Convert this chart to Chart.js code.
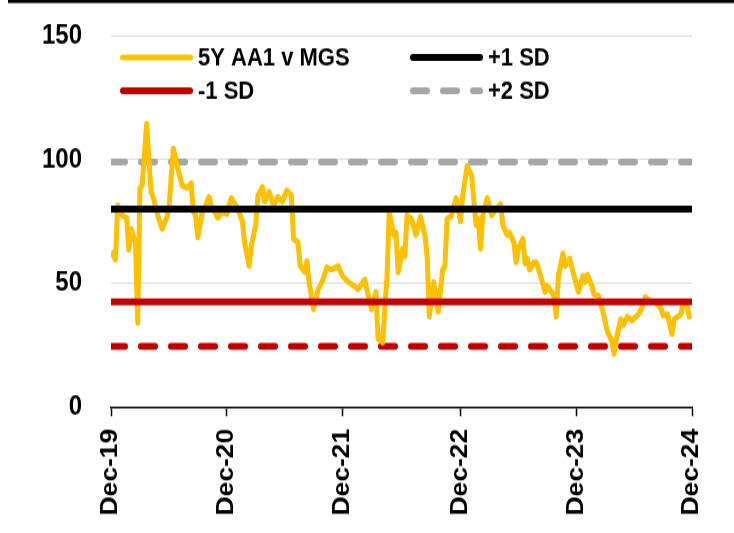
<!DOCTYPE html>
<html>
<head>
<meta charset="utf-8">
<script src="https://cdn.jsdelivr.net/npm/chart.js@4.4.1/dist/chart.umd.min.js"></script>
<style>
  html, body { margin: 0; padding: 0; background: #fff; overflow: hidden; }
  #wrap { width: 734px; height: 533px; }
  /* chart is drawn a little short and stretched to full height */
  #spreadChart { transform: scaleY(1.1487); transform-origin: 0 0; }
</style>
</head>
<body>
<div id="wrap"><canvas id="spreadChart" width="734" height="464"></canvas></div>
<script>
// x axis: weeks since Dec-19
const tickLabels = ['Dec-19', 'Dec-20', 'Dec-21', 'Dec-22', 'Dec-23', 'Dec-24'];
const tickWeeks = [0, 52, 104, 157, 209, 261];

// 5Y AA1 v MGS spread (bp)
const weeks = [
  0, 2, 3, 5, 7, 8, 9, 11, 12, 13, 14, 16, 18, 19, 21, 23, 25, 26, 28, 30,
  32, 34, 36, 37, 38, 39, 41, 42, 44, 45, 48, 50, 52, 54, 57, 59, 60, 62, 63, 65,
  66, 68, 69, 71, 73, 75, 77, 79, 81, 82, 84, 85, 87, 88, 89, 91, 93, 95, 97, 99,
  102, 104, 106, 109, 111, 114, 115, 117, 119, 120, 122, 124, 125, 127, 128, 129, 131, 132, 133, 135,
  137, 139, 141, 142, 143, 145, 147, 149, 150, 151, 153, 155, 157, 158, 160, 162, 164, 165, 166, 167,
  169, 171, 173, 175, 176, 178, 179, 181, 182, 183, 185, 186, 187, 188, 190, 191, 193, 195, 196, 199,
  200, 201, 203, 204, 206, 208, 210, 212, 213, 214, 216, 217, 219, 221, 222, 223, 225, 226, 227, 229,
  230, 232, 234, 237, 239, 240, 242, 244, 247, 248, 250, 252, 253, 256, 257, 259, 260
];
const spread = [
  63, 59.5, 81.5, 77.5, 76.5, 63.5, 72, 66.5, 34, 88.5, 89.5, 114.5, 87, 84.5, 77.5, 72, 76.5, 80, 104.5, 96.5,
  89.5, 88.5, 90.5, 79, 77.5, 68.5, 79, 80, 85, 81.5, 76.5, 79, 78, 84.5, 80, 75, 66.5, 57, 65, 73.5,
  85.5, 89, 83, 87, 81.5, 85, 83, 87.5, 85.5, 68, 66.5, 57, 54.5, 59, 50.5, 39.5, 47.5, 51, 56.5, 55.5,
  57, 53, 51, 49, 47.5, 51.5, 47.5, 39.5, 46.5, 27.5, 26, 53, 79, 69.5, 70.5, 54.5, 64, 61, 77.5, 76,
  69.5, 77, 69.5, 61, 36.5, 50.5, 38.5, 55.5, 57, 76, 77.5, 84.5, 75, 85.5, 97.5, 93.5, 73.5, 76, 64, 77.5,
  84.5, 77.5, 80, 82, 73.5, 69.5, 70.5, 66.5, 58.5, 64, 68, 58, 60, 55.5, 58.5, 58.5, 53, 46.5, 49, 45,
  36.5, 53, 62, 57, 60, 53, 46.5, 53, 50.5, 53.5, 49, 45.5, 45, 38.5, 34.5, 30.5, 26.5, 21.5, 27.5, 35.5,
  33, 36.5, 35, 37.5, 41, 44.5, 43, 42.5, 40, 37, 37.5, 29.5, 35.5, 37.5, 42, 40, 35.5
];

// standard deviation bands
const plusOneSd = 80;
const minusOneSd = 42.5;
const plusTwoSd = 99;
const minusTwoSd = 24.5;

const yTicks = [0, 50, 100, 150];

const FONT = '"Liberation Sans", Arial, sans-serif';

function flatLine(level) {
  return [{ x: tickWeeks[0], y: level }, { x: tickWeeks[tickWeeks.length - 1], y: level }];
}

// white background and the rule across the top
const frame = {
  id: 'frame',
  beforeDraw(chart) {
    const ctx = chart.ctx;
    ctx.save();
    ctx.fillStyle = '#fff';
    ctx.fillRect(0, 0, chart.width, chart.height);
    ctx.fillStyle = '#000';
    ctx.fillRect(8, 0, chart.width - 8, 2.6);
    ctx.restore();
  }
};

// two-column legend inside the plot
const sdLegend = {
  id: 'sdLegend',
  afterDraw(chart) {
    const ctx = chart.ctx;
    const slots = [
      { label: '5Y AA1 v MGS', x: 120, y: 50 },
      { label: '+1 SD', x: 410, y: 50 },
      { label: '-1 SD', x: 120, y: 79 },
      { label: '+2 SD', x: 410, y: 79 }
    ];
    ctx.save();
    ctx.font = 'bold 22px ' + FONT;
    ctx.textBaseline = 'middle';
    slots.forEach((s) => {
      const ds = chart.data.datasets.find((d) => d.label === s.label);
      const w = ds.borderWidth;
      ctx.beginPath();
      ctx.lineCap = 'round';
      ctx.lineWidth = w;
      ctx.strokeStyle = ds.borderColor;
      ctx.setLineDash(ds.borderDash || []);
      ctx.moveTo(s.x + w / 2, s.y);
      ctx.lineTo(s.x + 73 - w / 2, s.y);
      ctx.stroke();
      ctx.setLineDash([]);
      ctx.fillStyle = '#000';
      ctx.fillText(s.label, s.x + 78, s.y + 1);
    });
    ctx.restore();
  }
};

new Chart(document.getElementById('spreadChart'), {
  type: 'line',
  data: {
    datasets: [
      {
        label: '+1 SD',
        data: flatLine(plusOneSd),
        borderColor: '#000000',
        borderWidth: 6,
        borderCapStyle: 'round',
        pointRadius: 0
      },
      {
        label: '-1 SD',
        data: flatLine(minusOneSd),
        borderColor: '#C00000',
        borderWidth: 6,
        borderCapStyle: 'round',
        pointRadius: 0
      },
      {
        label: '5Y AA1 v MGS',
        data: weeks.map((w, i) => ({ x: w, y: spread[i] })),
        borderColor: '#FFC000',
        borderWidth: 5,
        borderJoinStyle: 'round',
        pointRadius: 0,
        tension: 0
      },
      {
        label: '+2 SD',
        data: flatLine(plusTwoSd),
        borderColor: '#A6A6A6',
        borderWidth: 6,
        borderDash: [14, 16],
        borderCapStyle: 'round',
        pointRadius: 0
      },
      {
        label: '-2 SD',
        data: flatLine(minusTwoSd),
        borderColor: '#C00000',
        borderWidth: 6,
        borderDash: [14, 16],
        borderCapStyle: 'round',
        pointRadius: 0
      }
    ]
  },
  options: {
    responsive: false,
    animation: false,
    devicePixelRatio: 1,
    layout: { padding: { top: 31.3, right: 42, left: 0, bottom: 0 } },
    plugins: {
      legend: { display: false },
      tooltip: { enabled: false }
    },
    scales: {
      x: {
        type: 'linear',
        min: tickWeeks[0],
        max: tickWeeks[tickWeeks.length - 1],
        afterBuildTicks: (scale) => {
          scale.ticks = tickWeeks.map((v) => ({ value: v }));
        },
        afterFit: (scale) => { scale.height = 109.7; },
        ticks: {
          autoSkip: false,
          minRotation: 90,
          maxRotation: 90,
          padding: 11,
          color: '#000',
          font: { family: FONT, size: 23, weight: 'bold' },
          callback: (v, i) => tickLabels[i]
        },
        grid: {
          drawOnChartArea: false,
          drawTicks: true,
          tickLength: 8,
          tickColor: '#000',
          tickWidth: 1.5
        },
        border: { display: true, color: '#000', width: 1.5 }
      },
      y: {
        min: yTicks[0],
        max: yTicks[yTicks.length - 1],
        afterBuildTicks: (scale) => {
          scale.ticks = yTicks.map((v) => ({ value: v }));
        },
        afterFit: (scale) => {
          // fixed gutter; labels sit well left of the plot
          scale.width = 111;
          scale.paddingTop = 0;
          scale.paddingBottom = 0;
        },
        ticks: {
          padding: 29,
          color: '#000',
          font: { family: FONT, size: 24, weight: 'bold' }
        },
        grid: {
          drawTicks: false,
          lineWidth: 1,
          color: (c) => (c.tick && c.tick.value === 0 ? 'rgba(0,0,0,0)' : '#D9D9D9')
        },
        border: { display: false }
      }
    }
  },
  plugins: [frame, sdLegend]
});
</script>
</body>
</html>
